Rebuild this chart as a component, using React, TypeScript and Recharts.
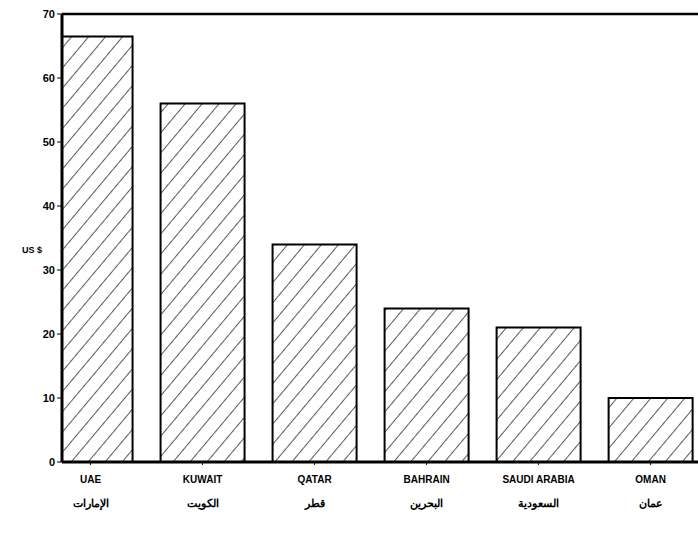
import React from 'react';
import { BarChart, Bar, XAxis, YAxis, ReferenceLine } from 'recharts';

const countriesEn = ['UAE', 'KUWAIT', 'QATAR', 'BAHRAIN', 'SAUDI ARABIA', 'OMAN'];
const countriesAr = ['الإمارات', 'الكويت', 'قطر', 'البحرين', 'السعودية', 'عمان'];
const values = [66.5, 56, 34, 24, 21, 10];
const yTicks = [0, 10, 20, 30, 40, 50, 60, 70];

const data = values.map((v, i) => ({ idx: i + 1, value: v }));

const font = '"Liberation Sans", Arial, sans-serif';

const CountryTick = (props: any) => {
  const { x, y, payload } = props;
  const i = payload.value - 1;
  return (
    <g transform={`translate(${x},${y})`}>
      <text x={0} y={16} textAnchor="middle" fontFamily={font} fontWeight="bold" fontSize={10} fill="#000">
        {countriesEn[i]}
      </text>
      <text x={0} y={40} textAnchor="middle" fontFamily={font} fontWeight="bold" fontSize={11} fill="#000">
        {countriesAr[i]}
      </text>
    </g>
  );
};

export default function App() {
  return (
    <div style={{ position: 'absolute', left: 0, top: 0 }}>
      <BarChart
        width={698}
        height={545}
        data={data}
        margin={{ top: 14, right: 0, left: 0, bottom: 8 }}
      >
        <defs>
          <pattern id="hatch" width="13" height="13" patternUnits="userSpaceOnUse" patternTransform="rotate(40)">
            <rect width="13" height="13" fill="#fff" />
            <line x1="0" y1="0" x2="0" y2="13" stroke="#000" strokeWidth="1.3" />
          </pattern>
        </defs>
        <XAxis
          dataKey="idx"
          type="number"
          domain={[0.745, 6.423]}
          ticks={[1, 2, 3, 4, 5, 6]}
          allowDataOverflow
          height={75}
          tick={<CountryTick />}
          tickLine={{ stroke: '#000' }}
          tickSize={3}
          axisLine={{ stroke: '#000', strokeWidth: 3 }}
        />
        <YAxis
          domain={[0, 70]}
          ticks={yTicks}
          width={62}
          tickSize={5}
          tickLine={{ stroke: '#000' }}
          axisLine={{ stroke: '#000', strokeWidth: 3 }}
          tick={{ fill: '#000', fontSize: 11, fontWeight: 'bold', fontFamily: font }}
          label={{
            value: 'US $',
            position: 'insideLeft',
            offset: 0,
            dx: 22,
            dy: 12,
            fill: '#000',
            fontSize: 9,
            fontWeight: 'bold',
            fontFamily: font,
          }}
        />
        <ReferenceLine y={70} stroke="#000" strokeWidth={2.5} ifOverflow="extendDomain" />
        <Bar
          dataKey="value"
          barSize={84}
          fill="url(#hatch)"
          stroke="#000"
          strokeWidth={2}
          isAnimationActive={false}
        />
      </BarChart>
    </div>
  );
}
